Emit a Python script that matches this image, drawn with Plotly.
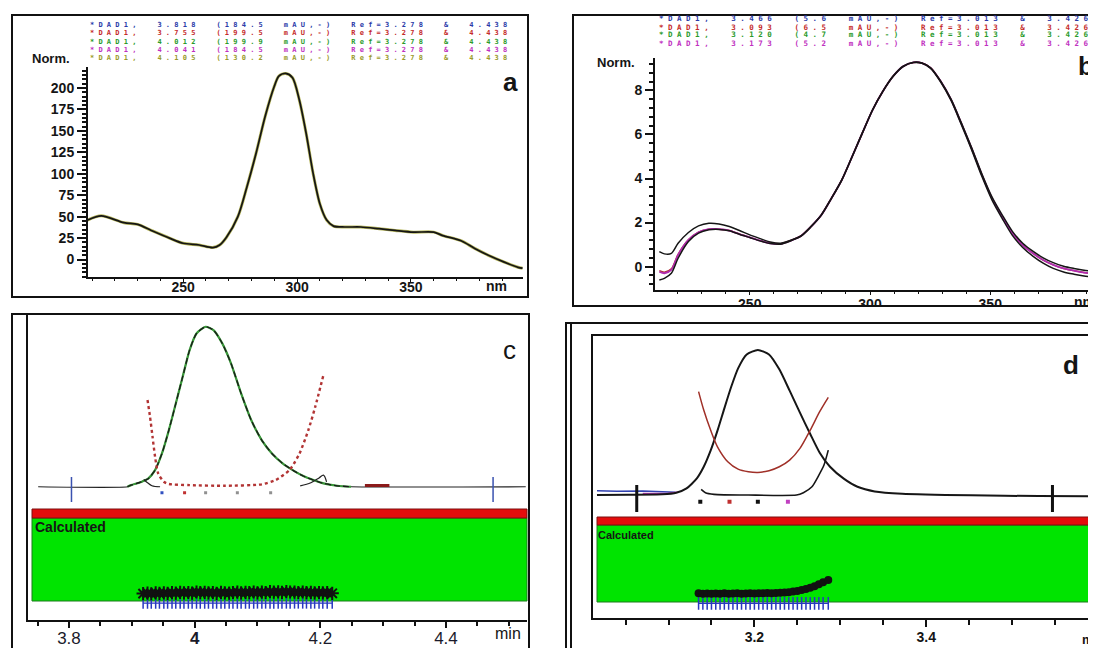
import plotly.graph_objects as go

W, H = 1096, 648
OFF = 8  # the page body has an 8 px margin; place marks at screen pixel positions
def px(x): return (x - OFF) / W
def py(y): return 1 - (y - OFF) / H

# ---------------- DATA ----------------
# Panel a: normalised UV spectrum
a_nm  = [208, 214, 224, 230, 236, 244, 250, 257, 263, 266, 269, 274, 278, 282, 286, 290, 292, 295, 298,
         301, 304, 307, 310, 313, 316, 321, 328, 336, 343, 351, 360, 364, 372, 378, 384, 391, 397, 399]
a_abs = [46, 51, 43, 41, 34, 25, 19, 17, 14, 17, 26, 50, 85, 124, 167, 202, 214, 217, 212,
         186, 147, 101, 65, 46, 39, 38, 38, 36, 34, 32, 32, 28, 22, 13, 5, -3, -9, -10]
a_xticks = [250, 300, 350]
a_yticks = [0, 25, 50, 75, 100, 125, 150, 175, 200]
a_header = ["*DAD1,  3.818  (184.5  mAU,-)  Ref=3.278  &  4.438",
            "*DAD1,  3.755  (199.5  mAU,-)  Ref=3.278  &  4.438",
            "*DAD1,  4.012  (199.9  mAU,-)  Ref=3.278  &  4.438",
            "*DAD1,  4.041  (184.5  mAU,-)  Ref=3.278  &  4.438",
            "*DAD1,  4.105  (130.2  mAU,-)  Ref=3.278  &  4.438"]

# Panel b: normalised UV spectra (4 overlaid)
b_nm = [212.4, 214.5, 217.4, 220.2, 224.5, 228.7, 233.0, 237.2, 241.5, 245.7, 250.0, 254.3, 258.5, 262.8, 267.0,
        271.3, 275.5, 279.8, 284.0, 288.3, 292.6, 296.8, 301.1, 305.3, 309.6, 313.8, 318.1, 321.6, 325.2, 329.4,
        333.7, 337.9, 342.2, 346.5, 350.7, 355.0, 359.2, 363.5, 367.7, 372.0, 376.2, 380.5, 384.8, 389.0, 393.6]
b_magenta = [-0.23, -0.30, -0.15, 0.53, 1.21, 1.56, 1.70, 1.70, 1.64, 1.48, 1.33, 1.18, 1.06, 1.03, 1.18,
             1.39, 1.82, 2.35, 3.11, 3.94, 5.00, 6.06, 7.12, 7.95, 8.64, 9.09, 9.27, 9.24, 9.02, 8.41,
             7.58, 6.52, 5.38, 4.17, 3.11, 2.27, 1.52, 0.98, 0.61, 0.30, 0.08, -0.08, -0.18, -0.27, -0.33]
b_red = [-0.18, -0.25, -0.10, 0.56, 1.22, 1.57, 1.70, 1.70, 1.64, 1.48, 1.33, 1.18, 1.07, 1.04, 1.19,
         1.40, 1.82, 2.35, 3.11, 3.94, 5.00, 6.06, 7.12, 7.95, 8.64, 9.09, 9.27, 9.24, 9.02, 8.41,
         7.58, 6.52, 5.38, 4.17, 3.11, 2.27, 1.52, 0.98, 0.61, 0.30, 0.08, -0.08, -0.18, -0.27, -0.33]
b_black1 = [0.68, 0.58, 0.60, 1.06, 1.55, 1.85, 1.97, 1.94, 1.82, 1.64, 1.44, 1.27, 1.12, 1.06, 1.20,
            1.40, 1.83, 2.36, 3.12, 3.95, 5.01, 6.07, 7.13, 7.96, 8.65, 9.10, 9.28, 9.25, 9.03, 8.42,
            7.60, 6.55, 5.42, 4.22, 3.17, 2.34, 1.60, 1.06, 0.70, 0.40, 0.18, 0.02, -0.08, -0.16, -0.22]
b_black2 = [-0.61, -0.53, -0.30, 0.38, 1.14, 1.52, 1.67, 1.69, 1.63, 1.47, 1.32, 1.17, 1.05, 1.02, 1.17,
            1.38, 1.81, 2.34, 3.10, 3.93, 4.99, 6.05, 7.11, 7.94, 8.63, 9.08, 9.26, 9.23, 9.00, 8.38,
            7.54, 6.47, 5.32, 4.10, 3.03, 2.18, 1.42, 0.87, 0.48, 0.16, -0.08, -0.24, -0.34, -0.42, -0.48]
b_xticks = [250, 300, 350]
b_yticks = [0, 2, 4, 6, 8]
b_header = ["*DAD1,  3.466  (5.6  mAU,-)  Ref=3.013  &  3.426  of",
            "*DAD1,  3.093  (6.5  mAU,-)  Ref=3.013  &  3.426  of",
            "*DAD1,  3.120  (4.7  mAU,-)  Ref=3.013  &  3.426  of",
            "*DAD1,  3.173  (5.2  mAU,-)  Ref=3.013  &  3.426  of"]

# Panel c: peak purity (chromatogram, purity curve, threshold, scans)
c_sig_t = [3.751, 3.893, 3.899, 3.915, 3.926, 3.937, 3.948, 3.959, 3.970, 3.981, 3.992, 4.003, 4.0175, 4.030,
           4.044, 4.058, 4.074, 4.090, 4.107, 4.123, 4.140, 4.156, 4.173, 4.189, 4.205, 4.227, 4.249, 4.527]
c_sig_y = [0, 0, 1, 3, 5, 10.4, 20.8, 35.4, 52, 68.8, 85.4, 95.8, 100, 97.9,
           89.6, 77, 58.3, 41.7, 29, 20.8, 14.6, 10.4, 6.7, 4.2, 2.1, 0.6, 0, 0]
c_thr_t = [3.919, 3.925, 3.932, 3.945, None, 4.168, 4.185, 4.198, 4.205, 4.210]
c_thr_y = [4.5, 2.5, 0.6, 0, None, 0.5, 2.5, 5.5, 7.3, 3.0]
c_pur_t = [3.925, 3.929, 3.933, 3.937, 3.942, 3.951, 3.959, 3.992, 4.047, 4.107, 4.129, 4.151, 4.167, 4.181, 4.192, 4.205]
c_pur_y = [54.2, 43.8, 31.3, 18.8, 8.3, 3.1, 1.7, 1.0, 0.6, 1.5, 4.2, 10.4, 20.8, 35.4, 50.0, 69.8]
c_noise_t = [4.271, 4.310]
c_noise_y = [0.8, 0.8]
c_spec_t = [3.948, 3.984, 4.0175, 4.068, 4.121]
c_spec_y = [-3.8, -3.8, -3.8, -3.8, -3.8]
c_int_t = [3.804, 4.475]
c_scan_t = [3.918, 3.925, 3.931, 3.938, 3.944, 3.951, 3.957, 3.964, 3.970, 3.977, 3.983, 3.990, 3.996, 4.003,
            4.009, 4.016, 4.022, 4.029, 4.035, 4.042, 4.048, 4.055, 4.061, 4.068, 4.074, 4.081, 4.087, 4.094,
            4.100, 4.107, 4.113, 4.120, 4.126, 4.133, 4.139, 4.146, 4.152, 4.159, 4.165, 4.172, 4.178, 4.185,
            4.191, 4.198, 4.204, 4.211, 4.219]
c_scan_y = [-66.8, -66.5, -66.9, -66.4, -66.7, -66.3, -66.6, -66.2, -66.5, -66.0, -66.4, -66.1, -66.5, -65.8,
            -66.2, -66.0, -66.4, -66.1, -66.6, -66.0, -66.3, -66.5, -66.1, -65.9, -66.4, -66.0, -66.2, -65.8,
            -66.3, -65.9, -66.1, -65.6, -65.9, -65.7, -66.0, -65.6, -65.8, -65.9, -66.1, -65.8, -66.2, -66.0,
            -66.3, -66.1, -66.4, -66.2, -66.6]
c_lim_y = [-72.7, -72.7, -72.7, -72.7, -72.7, -72.7, -72.7, -72.7, -72.7, -72.7, -72.7, -72.7, -72.7, -72.7,
           -72.7, -72.7, -72.7, -72.7, -72.7, -72.7, -72.7, -72.7, -72.7, -72.7, -72.7, -72.7, -72.7, -72.7,
           -72.7, -72.7, -72.7, -72.7, -72.7, -72.7, -72.7, -72.7, -72.7, -72.7, -72.7, -72.7, -72.7, -72.7,
           -72.7, -72.7, -72.7, -72.7, -72.7]
c_xticks = [3.8, 4.0, 4.2, 4.4]
c_xlabels = ["3.8", "<b>4</b>", "4.2", "4.4"]

# Panel d
d_sig_t = [3.0167, 3.053, 3.093, 3.109, 3.121, 3.133, 3.141, 3.149, 3.157, 3.165, 3.173, 3.181, 3.191, 3.204,
           3.217, 3.229, 3.241, 3.253, 3.265, 3.276, 3.288, 3.304, 3.320, 3.340, 3.372, 3.452, 3.531, 3.595]
d_sig_y = [0, 0.2, 0.5, 1.6, 4.6, 11.5, 19.5, 30.6, 44.4, 59.8, 74.7, 87.4, 97, 100,
           97, 86.7, 72, 56.8, 42.1, 29.2, 19.5, 11.3, 5.7, 2.5, 0.9, -0.2, -0.7, -0.9]
d_blue_t = [3.0167, 3.04, 3.07, 3.095, 3.108]
d_blue_y = [3.0, 2.6, 2.8, 2.4, 2.0]
d_mag_t = [3.07, 3.085, 3.10, 3.112]
d_mag_y = [1.0, 1.3, 1.2, 2.2]
d_pur_t = [3.135, 3.141, 3.149, 3.157, 3.169, 3.181, 3.193, 3.204, 3.217, 3.229, 3.241, 3.253, 3.265, 3.276, 3.286]
d_pur_y = [71.3, 58.6, 44.8, 33.3, 23.0, 17.9, 16.1, 15.6, 16.8, 19.5, 24.1, 32.2, 44.8, 57.5, 67.4]
d_thr_t = [3.138, 3.143, 3.153, 3.193, 3.249, 3.257, 3.267, 3.274, 3.281, 3.286]
d_thr_y = [3.9, 1.6, 0.5, 0, 0, 1.6, 5.7, 12.6, 20.7, 31.0]
d_spec_t = [3.137, 3.171, 3.204, 3.239]
d_spec_y = [-4.6, -4.6, -4.6, -4.6]
d_int_t = [3.063, 3.547]
d_scan_t = [3.135, 3.140, 3.145, 3.150, 3.155, 3.160, 3.165, 3.170, 3.175, 3.180, 3.185, 3.190, 3.195, 3.200,
            3.205, 3.210, 3.215, 3.220, 3.225, 3.230, 3.235, 3.240, 3.245, 3.250, 3.255, 3.260, 3.265, 3.270,
            3.275, 3.280, 3.286]
d_scan_y = [-67.8, -68.0, -67.9, -68.1, -67.9, -68.0, -67.8, -68.0, -67.9, -67.8, -68.0, -67.9, -67.8, -67.9,
            -67.7, -67.8, -67.6, -67.7, -67.5, -67.4, -67.2, -67.0, -66.6, -66.1, -65.5, -64.8, -64.0, -62.9,
            -61.6, -60.1, -58.6]
d_lim_y = [-74.7, -74.7, -74.7, -74.7, -74.7, -74.7, -74.7, -74.7, -74.7, -74.7, -74.7, -74.7, -74.7, -74.7,
           -74.7, -74.7, -74.7, -74.7, -74.7, -74.7, -74.7, -74.7, -74.7, -74.7, -74.7, -74.7, -74.7, -74.7,
           -74.7, -74.7, -74.7]
d_xticks = [3.2, 3.4]

# ---------------- FIGURE ----------------
SANS = "Liberation Sans"
MONO = "DejaVu Sans Mono"
NB = "\u00a0"
def spaced(s):
    return NB.join(NB if ch == " " else ch for ch in s)

fig = go.Figure()
def add(x, y, ax, **kw):
    fig.add_trace(go.Scatter(x=x, y=y, xaxis="x" + ax, yaxis="y" + ax, hoverinfo="skip",
                             showlegend=False, **kw))

# panel a
add(a_nm, a_abs, "", mode="lines", line=dict(color="#b4b45a", width=3.0, shape="spline", smoothing=0.8))
add(a_nm, a_abs, "", mode="lines", line=dict(color="#151515", width=1.7, shape="spline", smoothing=0.8))
# panel b
add(b_nm, b_red, "2", mode="lines", line=dict(color="#b03030", width=1.5, shape="spline", smoothing=0.8))
add(b_nm, b_magenta, "2", mode="lines", line=dict(color="#b02cb0", width=1.8, shape="spline", smoothing=0.8))
add(b_nm, b_black2, "2", mode="lines", line=dict(color="#151515", width=1.5, shape="spline", smoothing=0.8))
add(b_nm, b_black1, "2", mode="lines", line=dict(color="#151515", width=1.5, shape="spline", smoothing=0.8))
# panel c
add(c_sig_t, c_sig_y, "3", mode="lines", line=dict(color="#222", width=1.2, shape="spline", smoothing=0.6))
add(c_sig_t[1:27], c_sig_y[1:27], "3", mode="lines", line=dict(color="#3a9a3a", width=2.2, shape="spline", smoothing=0.6))
add(c_sig_t[1:27], c_sig_y[1:27], "3", mode="lines", line=dict(color="#1a1a1a", width=1.3, dash="6px,3px", shape="spline", smoothing=0.6))
add(c_thr_t, c_thr_y, "3", mode="lines", line=dict(color="#222", width=1.2, shape="spline"))
add(c_pur_t, c_pur_y, "3", mode="lines", line=dict(color="#b23434", width=2.4, dash="dot", shape="spline", smoothing=0.6))
add(c_noise_t, c_noise_y, "3", mode="lines", line=dict(color="#8b1a1a", width=3))
add(c_spec_t, c_spec_y, "3", mode="markers",
    marker=dict(symbol="square", size=3, color=["#3050c0", "#c03030", "#909090", "#909090", "#909090"]))
for t in c_int_t:
    add([t, t], [6.1, -9.6], "3", mode="lines", line=dict(color="#3a52b0", width=1.5))
add(c_scan_t, c_lim_y, "3", mode="lines+markers", line=dict(color="#2838c0", width=1.2),
    marker=dict(symbol="line-ns-open", size=8, line=dict(color="#2838c0", width=1.5)))
add(c_scan_t, c_scan_y, "3", mode="lines+markers", line=dict(color="#111", width=6),
    marker=dict(symbol="asterisk-open", size=11, color="#111", line=dict(color="#111", width=2)))
# panel d
add(d_blue_t, d_blue_y, "4", mode="lines", line=dict(color="#3040b0", width=1.5))
add(d_mag_t, d_mag_y, "4", mode="lines", line=dict(color="#c040c0", width=1.5))
add(d_sig_t, d_sig_y, "4", mode="lines", line=dict(color="#161616", width=2, shape="spline", smoothing=0.6))
add(d_pur_t, d_pur_y, "4", mode="lines", line=dict(color="#a03028", width=1.5, shape="spline", smoothing=0.8))
add(d_thr_t, d_thr_y, "4", mode="lines", line=dict(color="#161616", width=1.6, shape="spline", smoothing=0.6))
add(d_spec_t, d_spec_y, "4", mode="markers",
    marker=dict(symbol="square", size=4, color=["#111", "#c03030", "#111", "#c040c0"]))
for t in d_int_t:
    add([t, t], [6.9, -11.7], "4", mode="lines", line=dict(color="#111", width=3))
add(d_scan_t, d_lim_y, "4", mode="lines+markers", line=dict(color="#2838c0", width=1.2),
    marker=dict(symbol="line-ns-open", size=9, line=dict(color="#2838c0", width=1.5)))
add(d_scan_t, d_scan_y, "4", mode="lines+markers", line=dict(color="#111", width=3),
    marker=dict(symbol="circle", size=8, color="#111"))

tick_bold = dict(family=SANS, size=14, color="#151515", weight="bold")
common = dict(showgrid=False, zeroline=False, showline=True, linecolor="#111", ticks="outside",
              tickcolor="#111")

layout = dict(
    width=W, height=H, autosize=False, margin=dict(l=0, r=0, t=0, b=0),
    paper_bgcolor="white", plot_bgcolor="rgba(0,0,0,0)", showlegend=False,
    xaxis=dict(domain=[px(88), px(523)], range=[208.2, 399.2], anchor="y", linewidth=2,
               tickmode="array", tickvals=a_xticks, ticklen=3, tickfont=tick_bold, ticklabelstandoff=-7,
               minor=dict(ticks="outside", ticklen=2, dtick=10, tick0=0, tickcolor="#111"), **common),
    yaxis=dict(domain=[py(277), py(67)], range=[-20.3, 224.5], anchor="x", linewidth=2,
               tickmode="array", tickvals=a_yticks, ticklen=9, tickwidth=1.5, tickfont=tick_bold,
               minor=dict(ticks="outside", ticklen=4, dtick=5, tick0=0, tickcolor="#111"), **common),
    xaxis2=dict(domain=[px(655), 1.0], range=[210.6, 397.3], anchor="y2", linewidth=2,
                tickmode="array", tickvals=b_xticks, ticklen=3, tickfont=tick_bold, ticklabelstandoff=-3,
                minor=dict(ticks="outside", ticklen=2, dtick=10, tick0=0, tickcolor="#111"), **common),
    yaxis2=dict(domain=[py(290), py(58)], range=[-1.06, 9.47], anchor="x2", linewidth=2,
                tickmode="array", tickvals=b_yticks, ticklen=8, tickwidth=1.5, tickfont=tick_bold,
                minor=dict(ticks="outside", ticklen=4, dtick=0.4, tick0=0, tickcolor="#111"), **common),
    xaxis3=dict(domain=[px(27.5), px(527)], range=[3.734, 4.529], anchor="y3", linewidth=1.5,
                tickmode="array", tickvals=c_xticks, ticktext=c_xlabels, ticklen=6, tickwidth=1.5,
                tickfont=dict(family=SANS, size=17, color="#1a1a2a"), ticklabelstandoff=-4,
                minor=dict(ticks="outside", ticklen=4, dtick=0.05, tick0=3.8, tickcolor="#111", tickwidth=1.5),
                **common),
    yaxis3=dict(domain=[py(620), py(313)], range=[-83.3, 108.6], anchor="x3", linewidth=1.5,
                showgrid=False, zeroline=False, showline=True, linecolor="#111", ticks="",
                showticklabels=False),
    xaxis4=dict(domain=[px(592.5), 1.0], range=[3.0115, 3.607], anchor="y4", linewidth=2, mirror=True,
                tickmode="array", tickvals=d_xticks, ticklen=7, tickwidth=2, tickfont=tick_bold,
                ticklabelstandoff=-2,
                minor=dict(ticks="outside", ticklen=5, dtick=0.05, tick0=3.2, tickcolor="#111", tickwidth=2),
                **common),
    yaxis4=dict(domain=[py(618.3), py(336)], range=[-85, 109.7], anchor="x4", linewidth=2,
                showgrid=False, zeroline=False, showline=True, linecolor="#111", ticks="",
                showticklabels=False),
)

def rect(x0, y0, x1, y1, **kw):
    d = dict(type="rect", xref="paper", yref="paper", x0=px(x0), x1=px(x1), y0=py(y1), y1=py(y0))
    d.update(kw)
    return d
def vline(x, y0, y1, **kw):
    d = dict(type="line", xref="paper", yref="paper", x0=px(x), x1=px(x), y0=py(y0), y1=py(y1))
    d.update(kw)
    return d

shapes = [
    # green/red result bars (behind traces)
    rect(32, 518, 527, 601, fillcolor="#00e400", line=dict(color="#1c7a1c", width=1), layer="below"),
    rect(32, 509, 527, 518, fillcolor="#e40c0c", line=dict(color="#7a1010", width=1), layer="below"),
    rect(597, 525, 1094, 602, fillcolor="#00e400", line=dict(color="#1c7a1c", width=1), layer="below"),
    rect(597, 517, 1094, 525, fillcolor="#e40c0c", line=dict(color="#7a1010", width=1), layer="below"),
    # white cover clipping panel b tick labels
    rect(568, 307, 1110, 320, fillcolor="white", line=dict(width=0), layer="above"),
    # frames
    rect(12, 15, 528, 297, line=dict(color="#111", width=2)),
    rect(573, 15, 1110, 306, line=dict(color="#111", width=2)),
    rect(12, 314, 529, 660, line=dict(color="#111", width=2)),
    rect(566, 323, 1110, 660, line=dict(color="#111", width=2)),
    vline(571, 323, 660, line=dict(color="#111", width=2)),
]

ann = []
def text(x, y, s, size=13, bold=False, color="#151515", xanchor="center", family=SANS):
    ann.append(dict(x=px(x), y=py(y), xref="paper", yref="paper", text=s, showarrow=False,
                    xanchor=xanchor, yanchor="middle",
                    font=dict(family=family, size=size, color=color, weight="bold" if bold else "normal")))

a_cols = ["#2a3aa8", "#c42a2a", "#2a9a2a", "#c030c0", "#9a9a2a"]
for i, (s, yy) in enumerate(zip(a_header, [25, 33, 42, 50, 58])):
    text(88, yy, spaced(s), size=7, bold=True, color=a_cols[i], xanchor="left", family=MONO)
b_cols = ["#2a3aa8", "#c42a2a", "#2a9a2a", "#c030c0"]
for i, (s, yy) in enumerate(zip(b_header, [19, 27, 35, 43])):
    text(657, yy, spaced(s), size=7.5, bold=True, color=b_cols[i], xanchor="left", family=MONO)

text(51, 58, "Norm.", size=13, bold=True)
text(616, 62, "Norm.", size=13, bold=True)
text(510, 82, "a", size=26, bold=True)
text(1076, 66, "b", size=26, bold=True, xanchor="left")
text(509, 350, "c", size=26)
text(1071, 365, "d", size=26, bold=True)
text(496, 286, "nm", size=14, bold=True)
text(1072, 302, "nm", size=14, bold=True, xanchor="left")
text(508, 633, "min", size=16)
text(1080, 639, "min", size=13, bold=True, xanchor="left")
text(33, 527, "Calculated", size=14, bold=True, xanchor="left")
text(596, 535, "Calculated", size=11, bold=True, xanchor="left")

layout["shapes"] = shapes
layout["annotations"] = ann
fig.update_layout(**layout)
fig.write_html("out.html")
